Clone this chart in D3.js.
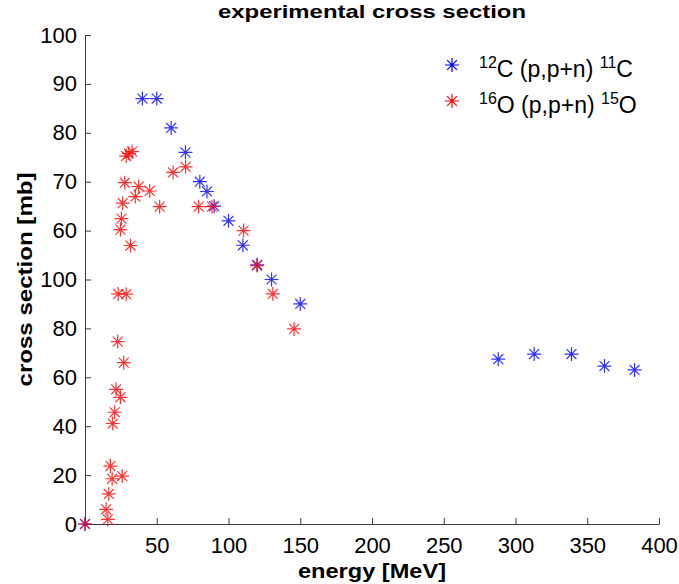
<!DOCTYPE html>
<html>
<head>
<meta charset="utf-8">
<script src="https://cdn.jsdelivr.net/npm/d3@7"></script>
<style>
  body { margin: 0; background: #fff; }
  text { font-family: "Liberation Sans", Arial, sans-serif; fill: #000; }
</style>
</head>
<body>
<div id="chart"></div>
<script>
// energy [MeV] and cross section, y in plotted axis units (upper half is drawn at 2x)
const carbonEnergy = [0, 40, 50, 60, 70, 80, 85, 90, 100, 110, 120, 130, 150, 288, 313, 339, 362, 383];
const carbonSigma  = [0, 174, 174, 162, 152, 140, 136, 130, 124, 114, 106, 100, 90, 67.4, 69.5, 69.5, 64.6, 63];

const oxygenEnergy = [0, 15.9, 14.7, 16.6, 18.9, 17.7, 25.9, 19.3, 20.7, 24.7, 21.7, 27, 22.8, 23.1, 28.7,
  24.7, 25.4, 26.3, 27.7, 28.7, 30.5, 32.8, 31.7, 35.1, 37.4, 45.1, 52, 61.4, 70.1, 79.2, 88.5, 110.5,
  119.8, 130.9, 145.7];
const oxygenSigma  = [0, 1.9, 6, 12.3, 18.5, 23.7, 19.6, 41.1, 45.7, 51.8, 55.1, 66, 74.6, 94.1, 94,
  120.4, 124.9, 131.2, 139.6, 150.5, 151.6, 152.3, 113.9, 133.9, 138, 136.2, 129.8, 143.8, 146.1, 129.8,
  129.8, 120, 105.7, 94.1, 79.8];

const xTicks = [50, 100, 150, 200, 250, 300, 350, 400];
const yTicks = [0, 20, 40, 60, 80, 100, 120, 140, 160, 180, 200];
const yTickLabels = ['0', '20', '40', '60', '80', '100', '60', '70', '80', '90', '100'];

const series = [
  { name: ['12', 'C (p,p+n) ', '11', 'C'], color: '#0000ff', x: carbonEnergy, y: carbonSigma },
  { name: ['16', 'O (p,p+n) ', '15', 'O'], color: '#ff0000', x: oxygenEnergy, y: oxygenSigma }
];

const width = 679, height = 584;
const margin = { top: 35, right: 20, bottom: 60, left: 85 };

const svg = d3.select('#chart').append('svg')
  .attr('width', width)
  .attr('height', height);

const x = d3.scaleLinear().domain([0, 400]).range([margin.left, width - margin.right]);
const y = d3.scaleLinear().domain([0, 200]).range([height - margin.bottom, margin.top]);

// asterisk marker: plus and cross
function star(r) {
  const d = r * Math.SQRT1_2;
  return `M${-r},0L${r},0M0,${-r}L0,${r}M${-d},${-d}L${d},${d}M${-d},${d}L${d},${-d}`;
}

// axes
const xAxis = svg.append('g')
  .attr('transform', `translate(0,${y(0)})`)
  .call(d3.axisBottom(x).tickValues(xTicks).tickSizeInner(-6).tickSizeOuter(0).tickPadding(13));
const yAxis = svg.append('g')
  .attr('transform', `translate(${x(0)},0)`)
  .call(d3.axisLeft(y).tickValues(yTicks).tickFormat((d, i) => yTickLabels[i])
    .tickSizeInner(-6).tickSizeOuter(0).tickPadding(8));

[xAxis, yAxis].forEach(g => {
  g.selectAll('path, line').attr('stroke', '#3c3c3c');
  g.selectAll('text').style('font-size', '22px').attr('fill', '#000');
});

// points
series.forEach(s => {
  svg.append('g').selectAll('path')
    .data(s.x.map((v, i) => [v, s.y[i]]))
    .join('path')
    .attr('transform', d => `translate(${x(d[0])},${y(d[1])})`)
    .attr('d', star(7))
    .attr('stroke', s.color)
    .attr('stroke-opacity', 0.8)
    .attr('stroke-width', 1.2)
    .attr('fill', 'none');
});

// title and labels
svg.append('text')
  .attr('x', (x(0) + x(400)) / 2)
  .attr('y', 18)
  .attr('text-anchor', 'middle')
  .attr('textLength', 308)
  .attr('lengthAdjust', 'spacingAndGlyphs')
  .style('font-size', '18px')
  .style('font-weight', 'bold')
  .text('experimental cross section');

svg.append('text')
  .attr('x', (x(0) + x(400)) / 2)
  .attr('y', 578)
  .attr('text-anchor', 'middle')
  .attr('textLength', 148)
  .attr('lengthAdjust', 'spacingAndGlyphs')
  .style('font-size', '20px')
  .style('font-weight', 'bold')
  .text('energy [MeV]');

svg.append('text')
  .attr('transform', `translate(32,${(y(0) + y(200)) / 2}) rotate(-90)`)
  .attr('text-anchor', 'middle')
  .attr('textLength', 214)
  .attr('lengthAdjust', 'spacingAndGlyphs')
  .style('font-size', '21px')
  .style('font-weight', 'bold')
  .text('cross section [mb]');

// legend
const legend = svg.append('g').attr('transform', 'translate(452,65)');
series.forEach((s, i) => {
  const row = legend.append('g').attr('transform', `translate(0,${i * 36})`);
  row.append('path')
    .attr('d', star(7))
    .attr('stroke', s.color)
    .attr('stroke-width', 1.2)
    .attr('fill', 'none');
  const t = row.append('text')
    .attr('x', 27)
    .attr('y', 12)
    .style('font-size', '23px');
  s.name.forEach((part, j) => {
    const sup = j % 2 === 0;
    t.append('tspan')
      .attr('dy', sup ? -9 : 9)
      .style('font-size', sup ? '16px' : '23px')
      .text(part);
  });
});
</script>
</body>
</html>
